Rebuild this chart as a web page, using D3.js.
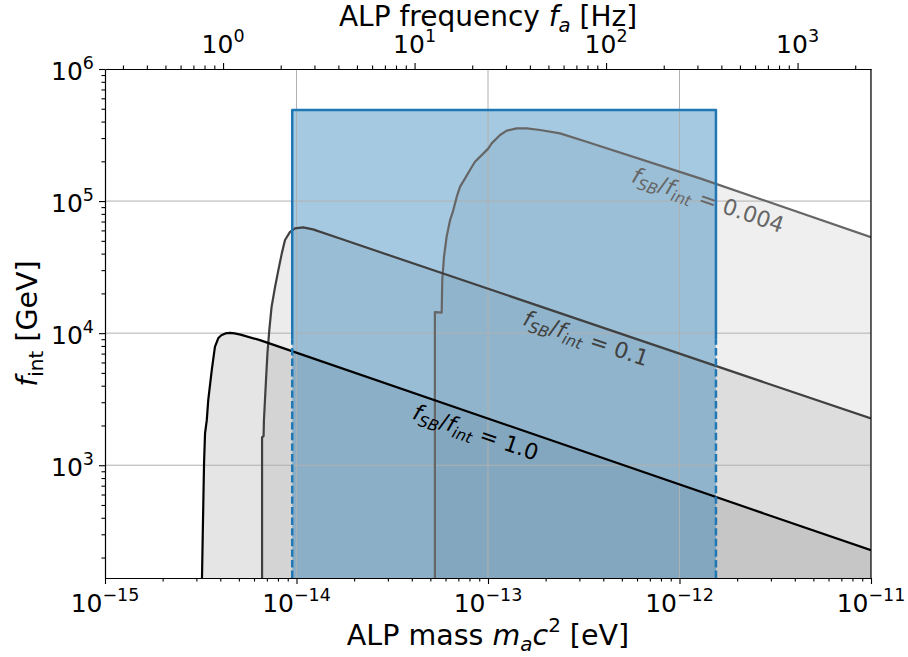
<!DOCTYPE html>
<html><head><meta charset="utf-8">
<script src="https://cdn.jsdelivr.net/npm/d3@7"></script>
<style>body{margin:0;background:#fff}svg{display:block}text{font-family:"DejaVu Sans",sans-serif}</style>
</head><body>
<svg id="c" width="908" height="657"></svg>
<script>
// ---------- data ----------
const massDomain = [1e-15, 1e-11];           // eV
const fintDomain = [140, 1e6];               // GeV
const H_PLANCK = 4.135667e-15;               // eV s

const massTicks = [1e-15, 1e-14, 1e-13, 1e-12, 1e-11];
const massTickExps = ["\u221215", "\u221214", "\u221213", "\u221212", "\u221211"];
const fintTicks = [1e3, 1e4, 1e5, 1e6];
const fintTickExps = ["3", "4", "5", "6"];
const freqTicks = [1, 10, 100, 1000];
const freqTickExps = ["0", "1", "2", "3"];

// curve fSB/fint = 1.0  [mass eV, fint GeV]
const curve1_mass = [3.21e-15, 3.24e-15, 3.29e-15, 3.33e-15, 3.40e-15, 3.46e-15, 3.61e-15, 3.75e-15, 3.91e-15, 4.05e-15, 4.25e-15, 4.50e-15, 4.75e-15, 5.1e-15, 6.44e-15, 1e-11];
const curve1_fint = [140, 305, 1035, 1746, 2193, 3105, 5248, 7870, 9200, 9650, 9950, 10050, 9950, 9750, 8851, 227];

// curve fSB/fint = 0.1
const curve01_mass = [6.61e-15, 6.61e-15, 6.73e-15, 6.76e-15, 6.93e-15, 7.05e-15, 7.21e-15, 7.41e-15, 7.73e-15, 8.04e-15, 8.38e-15, 8.71e-15, 9.25e-15, 9.82e-15, 1.081e-14, 1.219e-14, 1.687e-14, 1e-11];
const curve01_fint = [140, 1629, 1660, 2193, 4406, 7015, 10540, 15810, 22440, 29990, 40180, 50700, 58480, 62090, 63240, 61090, 52000, 2259];

// curve fSB/fint = 0.004
const curve004_mass = [5.28e-14, 5.28e-14, 5.73e-14, 5.77e-14, 5.89e-14, 6.08e-14, 6.34e-14, 6.59e-14, 6.87e-14, 7.14e-14, 7.59e-14, 8.05e-14, 8.55e-14, 9.27e-14, 1.005e-13, 1.045e-13, 1.156e-13, 1.253e-13, 1.413e-13, 1.592e-13, 1.871e-13, 2.377e-13, 3.27e-13, 1.279e-12, 1e-11];
const curve004_fint = [140, 14420, 14290, 25230, 37840, 53700, 71780, 85510, 107900, 128200, 148600, 171800, 198600, 222800, 250600, 273500, 316200, 341200, 355600, 355600, 345100, 325800, 281200, 148600, 53330];

const curveNames = ["0.004", "0.1", "1.0"];
const curveColors = ["#666666", "#404040", "#000000"];
const labelMass = [1.41e-12, 3.25e-13, 8.65e-14];
const labelFint = [1.02e5, 9160, 1780];

// sensitivity band (blue)
const bandMass = [9.5e-15, 1.55e-12];
const bandTop = 4.9e5;
const bandSolidFrom = 8.9e3;

// ---------- layout ----------
const L = 105, R = 871, T = 69, B = 578;
const svg = d3.select("#c");
const x = d3.scaleLog().domain(massDomain).range([L, R]);
const y = d3.scaleLog().domain(fintDomain).range([B, T]);
const xf = d3.scaleLog().domain([massDomain[0] / H_PLANCK, massDomain[1] / H_PLANCK]).range([L, R]);

svg.append("defs").append("clipPath").attr("id", "clip")
  .append("rect").attr("x", L).attr("y", T).attr("width", R - L).attr("height", B - T);
const plot = svg.append("g").attr("clip-path", "url(#clip)");

const curves = [
  {m: curve004_mass, f: curve004_fint},
  {m: curve01_mass, f: curve01_fint},
  {m: curve1_mass, f: curve1_fint}
].map((c, i) => ({pts: c.m.map((m, j) => [m, c.f[j]]), name: curveNames[i], color: curveColors[i],
  lm: labelMass[i], lf: labelFint[i]}));

const area = d3.area().x(d => x(d[0])).y0(y(fintDomain[0])).y1(d => y(d[1]));
const line = d3.line().x(d => x(d[0])).y(d => y(d[1]));

// grey fills
curves.forEach(c => {
  plot.append("path").attr("d", area(c.pts)).attr("fill", c.color).attr("fill-opacity", 0.1);
});

// blue fill
plot.append("rect")
  .attr("x", x(bandMass[0])).attr("width", x(bandMass[1]) - x(bandMass[0]))
  .attr("y", y(bandTop)).attr("height", y(fintDomain[0]) - y(bandTop))
  .attr("fill", "#1f77b4").attr("fill-opacity", 0.4);

// grid
const grid = plot.append("g").attr("stroke", "#b0b0b0").attr("stroke-width", 1);
massTicks.forEach(v => grid.append("line").attr("x1", x(v)).attr("x2", x(v)).attr("y1", T).attr("y2", B));
fintTicks.forEach(v => grid.append("line").attr("y1", y(v)).attr("y2", y(v)).attr("x1", L).attr("x2", R));

// curve lines
curves.forEach(c => {
  plot.append("path").attr("d", line(c.pts)).attr("fill", "none").attr("stroke", c.color)
    .attr("stroke-width", 2.2).attr("stroke-linejoin", "round");
});

// blue outline
plot.append("path")
  .attr("d", line([[bandMass[0], bandSolidFrom], [bandMass[0], bandTop], [bandMass[1], bandTop], [bandMass[1], bandSolidFrom]]))
  .attr("fill", "none").attr("stroke", "#1f77b4").attr("stroke-width", 2.5).attr("stroke-linejoin", "round");
[0, 1].forEach(i => {
  plot.append("path")
    .attr("d", line([[bandMass[i], fintDomain[0]], [bandMass[i], bandSolidFrom]]))
    .attr("fill", "none").attr("stroke", "#1f77b4").attr("stroke-width", 2.5).attr("stroke-dasharray", "7.4,3.2");
});

// rich text helper
function rich(g, parts, fs) {
  const t = g.append("text").attr("font-size", fs);
  let cur = 0;
  parts.forEach(p => {
    const shift = p.sub ? 0.22 * fs : p.sup ? -0.46 * fs : 0;
    const ts = t.append("tspan").text(p.t);
    if (shift - cur !== 0) ts.attr("dy", shift - cur);
    if (p.sub || p.sup) ts.attr("font-size", fs * 0.7);
    if (p.it) ts.attr("font-style", "italic");
    cur = shift;
  });
  return t;
}

// curve labels
curves.forEach(c => {
  const n = c.pts.length;
  const a = c.pts[n - 2], b = c.pts[n - 1];
  const ang = Math.atan2(y(b[1]) - y(a[1]), x(b[0]) - x(a[0])) * 180 / Math.PI;
  const g = svg.append("g").attr("transform", `translate(${x(c.lm)},${y(c.lf)}) rotate(${ang})`);
  rich(g, [{t: "f", it: 1}, {t: "SB", it: 1, sub: 1}, {t: "/"}, {t: "f", it: 1}, {t: "int", it: 1, sub: 1}, {t: " = " + c.name}], 22)
    .attr("text-anchor", "middle").attr("dy", "0.35em").attr("fill", c.color);
});

// ---------- axes ----------
function minorTicks(d0, d1) {
  const out = [];
  for (let k = Math.floor(Math.log10(d0)); k <= Math.ceil(Math.log10(d1)); k++)
    for (let j = 2; j <= 9; j++) { const v = j * Math.pow(10, k); if (v >= d0 && v <= d1) out.push(v); }
  return out;
}
const axStyle = g => { g.selectAll("path").attr("stroke", "#000").attr("stroke-width", 1.2);
  g.selectAll("line").attr("stroke", "#000").attr("stroke-width", 1.1); g.selectAll("text").remove(); };

svg.append("g").attr("transform", `translate(0,${B})`)
  .call(d3.axisBottom(x).tickValues(massTicks).tickSize(6).tickSizeOuter(0).tickFormat(() => "")).call(axStyle);
svg.append("g").attr("transform", `translate(0,${B})`)
  .call(d3.axisBottom(x).tickValues(minorTicks(...massDomain)).tickSize(3.5).tickFormat(() => "")).call(axStyle)
  .select("path").remove();
massTicks.forEach((v, i) => {
  const g = svg.append("g").attr("transform", `translate(${x(v)},612)`);
  rich(g, [{t: "10"}, {t: massTickExps[i], sup: 1}], 25).attr("text-anchor", "middle");
});

svg.append("g").attr("transform", `translate(${L},0)`)
  .call(d3.axisLeft(y).tickValues(fintTicks).tickSize(6).tickSizeOuter(0).tickFormat(() => "")).call(axStyle);
svg.append("g").attr("transform", `translate(${L},0)`)
  .call(d3.axisLeft(y).tickValues(minorTicks(...fintDomain)).tickSize(3.5).tickFormat(() => "")).call(axStyle)
  .select("path").remove();
fintTicks.forEach((v, i) => {
  const g = svg.append("g").attr("transform", `translate(94,${y(v) + 11})`);
  rich(g, [{t: "10"}, {t: fintTickExps[i], sup: 1}], 25).attr("text-anchor", "end");
});

svg.append("g").attr("transform", `translate(0,${T})`)
  .call(d3.axisTop(xf).tickValues(freqTicks).tickSize(6).tickSizeOuter(0).tickFormat(() => "")).call(axStyle);
svg.append("g").attr("transform", `translate(0,${T})`)
  .call(d3.axisTop(xf).tickValues(minorTicks(...xf.domain())).tickSize(3.5).tickFormat(() => "")).call(axStyle)
  .select("path").remove();
freqTicks.forEach((v, i) => {
  const g = svg.append("g").attr("transform", `translate(${xf(v)},53)`);
  rich(g, [{t: "10"}, {t: freqTickExps[i], sup: 1}], 25).attr("text-anchor", "middle");
});

// right spine
svg.append("line").attr("x1", R).attr("x2", R).attr("y1", T).attr("y2", B).attr("stroke", "#000").attr("stroke-width", 1.2);

// axis titles
rich(svg.append("g").attr("transform", `translate(${(L + R) / 2},645)`),
  [{t: "ALP mass "}, {t: "m", it: 1}, {t: "a", it: 1, sub: 1}, {t: "c", it: 1}, {t: "2", sup: 1}, {t: " [eV]"}], 28.5)
  .attr("text-anchor", "middle");
rich(svg.append("g").attr("transform", `translate(${(L + R) / 2},25.5)`),
  [{t: "ALP frequency "}, {t: "f", it: 1}, {t: "a", it: 1, sub: 1}, {t: " [Hz]"}], 28)
  .attr("text-anchor", "middle");
rich(svg.append("g").attr("transform", `translate(37,${(T + B) / 2}) rotate(-90)`),
  [{t: "f", it: 1}, {t: "int", sub: 1}, {t: " [GeV]"}], 28.5)
  .attr("text-anchor", "middle");
</script>
</body></html>
